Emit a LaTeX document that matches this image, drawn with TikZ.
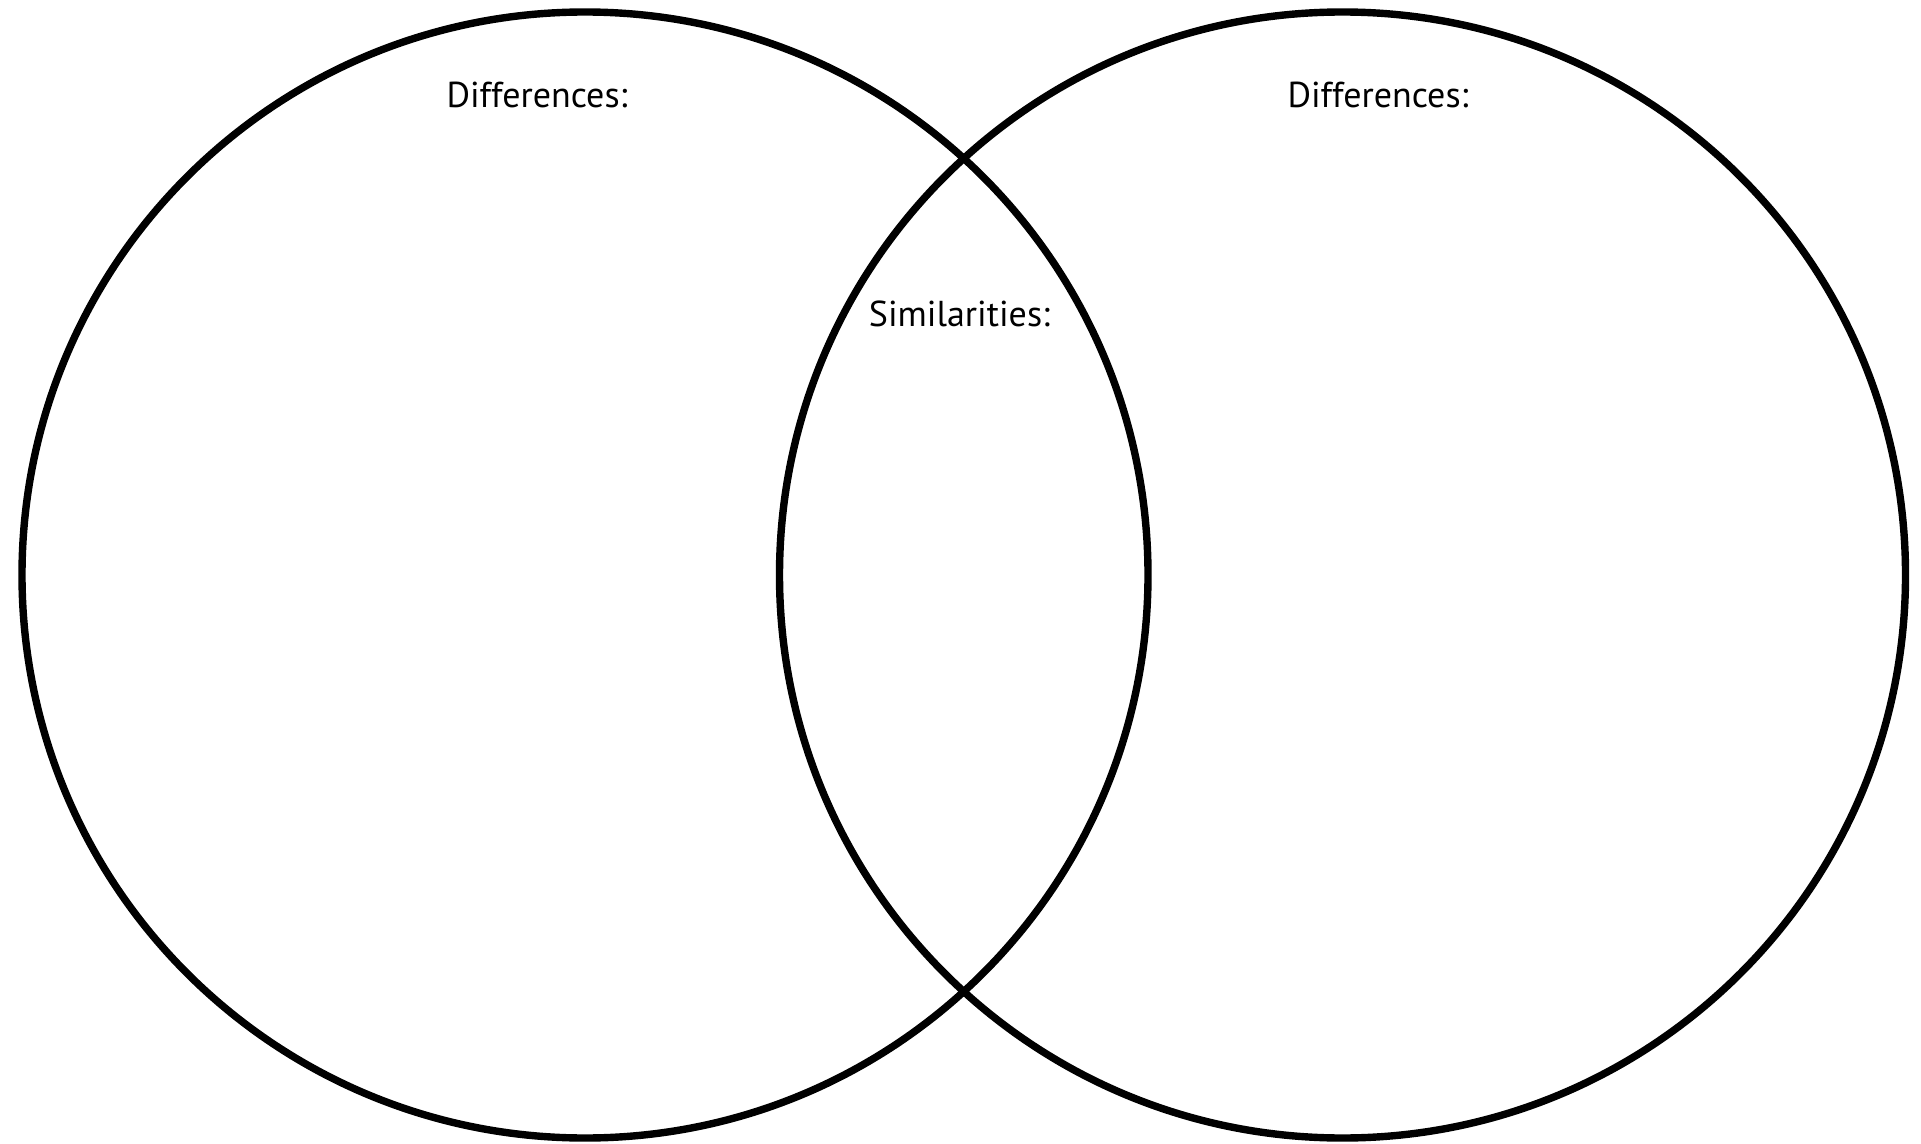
\documentclass[tikz,border=0pt]{standalone}
\usepackage{fontspec}
\setmainfont{PT Sans}
\usepackage{tikz}
\usetikzlibrary{positioning}

\begin{document}
\begin{tikzpicture}[
      x=0.5pt, y=-0.5pt,
      set/.style={circle, draw=black, line width=3.7pt, inner sep=0pt, minimum size=563pt},
      caption/.style={anchor=base, inner sep=0pt, font=\fontsize{18}{21}\selectfont},
    ]
    \useasboundingbox (0,0) rectangle (1921,1144);

    % the two sets
    \node[set] (leftset) at (585,575) {};
    \node[set] (rightset) at (1342.5,575) {};

    % labels
    \node[caption] (leftdiff) at (537,108) {Differences:};
    \node[caption] (rightdiff) at (1378,108) {Differences:};
    \node[caption] (similar) at (959.5,327) {Similarities:};
  \end{tikzpicture}
\end{document}
